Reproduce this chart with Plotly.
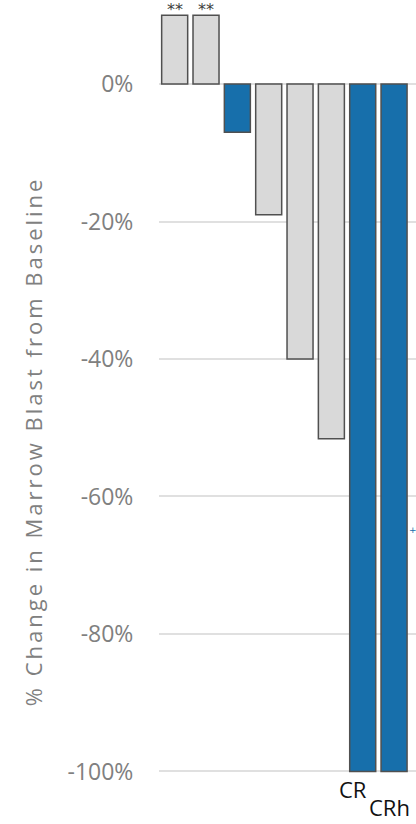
import plotly.graph_objects as go

patients = [1, 2, 3, 4, 5, 6, 7, 8]
change_pct = [10, 10, -7, -19, -40, -51.6, -100, -100]
responder = [False, False, True, False, False, False, True, True]
star_labels = ["**", "**", "", "", "", "", "", ""]
response_labels = ["", "", "", "", "", "", "CR", "CRh"]
y_ticks = [0, -20, -40, -60, -80, -100]
y_tick_text = ["0%", "-20%", "-40%", "-60%", "-80%", "-100%"]
y_title = "% Change in Marrow Blast from Baseline"

BLUE = "#176fab"
GRAY = "#d9d9d9"
xs = [p - 1 for p in patients]
colors = [BLUE if r else GRAY for r in responder]

fig = go.Figure()
fig.add_trace(go.Bar(
    x=xs, y=change_pct,
    marker=dict(color=colors, line=dict(color="#505050", width=1.5)),
    width=0.83,
    showlegend=False,
))

annotations = []
for x, v, s in zip(xs, change_pct, star_labels):
    if s:
        annotations.append(dict(x=x, y=v, text=s, showarrow=False, yanchor="middle",
                                xref="x", yref="y", yshift=5.5,
                                font=dict(family="DejaVu Sans", size=16, color="#404040")))
lab_pos = {"CR": (-0.32, -102.6), "CRh": (-0.16, -105.2)}
for x, s in zip(xs, response_labels):
    if s:
        dx, yy = lab_pos[s]
        annotations.append(dict(x=x + dx, y=yy, text=s, showarrow=False,
                                xref="x", yref="y",
                                font=dict(family="Open Sans", size=22, color="#111111")))
annotations.append(dict(x=7.62, y=-64.9, text="+", showarrow=False, xref="x", yref="y",
                        font=dict(family="DejaVu Sans", size=9, color=BLUE)))
annotations.append(dict(x=-0.4926, y=0.465, xref="paper", yref="paper",
                        xanchor="center", yanchor="middle",
                        text='<span style="letter-spacing:3px">' + y_title + '</span>',
                        textangle=-90, showarrow=False,
                        font=dict(family="Open Sans", size=22, color="#808080")))

fig.update_layout(
    width=416, height=824,
    margin=dict(l=159.4, r=0, t=0, b=0, pad=0),
    plot_bgcolor="white", paper_bgcolor="white",
    xaxis=dict(range=[-0.5, 7.7], showticklabels=False, showgrid=False,
               zeroline=False, showline=False, ticks=""),
    yaxis=dict(range=[-107.64, 12.22], tickvals=y_ticks, ticktext=y_tick_text,
               showgrid=True, gridcolor="#e0e0e0", gridwidth=1.5,
               zeroline=False, showline=False,
               ticks="outside", ticklen=20, tickcolor="rgba(0,0,0,0)",
               tickfont=dict(family="Open Sans", size=23, color="#808080")),
    annotations=annotations,
)
fig.write_html("out.html")
